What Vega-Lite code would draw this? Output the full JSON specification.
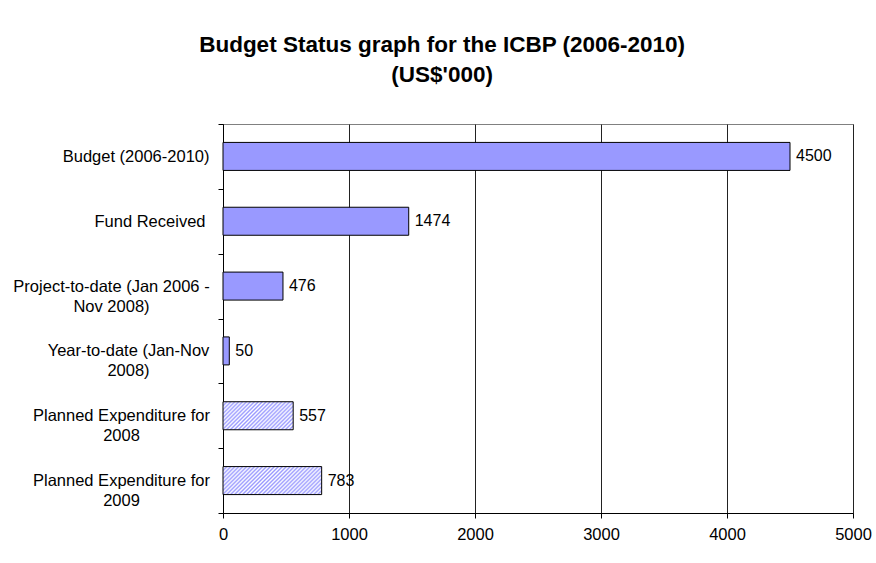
{
  "$schema": "https://vega.github.io/schema/vega-lite/v6.json",
  "width": 630,
  "height": 389,
  "autosize": {"type": "none"},
  "padding": {"left": 223, "top": 124, "right": 23, "bottom": 50},
  "background": "white",
  "config": {"font": "Liberation Sans", "view": {"stroke": "#808080", "strokeWidth": 1}},
  "title": {
    "text": ["Budget Status graph for the ICBP (2006-2010)", "(US$'000)"],
    "font": "Liberation Sans",
    "fontSize": 22.5,
    "fontWeight": "bold",
    "color": "black",
    "anchor": "middle",
    "frame": "bounds",
    "offset": 30,
    "lineHeight": 30
  },
  "data": {
    "values": [
      {"cat": "Budget (2006-2010)", "value": 4500, "kind": "actual"},
      {"cat": "Fund Received", "value": 1474, "kind": "actual"},
      {"cat": "Project-to-date (Jan 2006 -\nNov 2008)", "value": 476, "kind": "actual"},
      {"cat": "Year-to-date (Jan-Nov\n2008)", "value": 50, "kind": "actual"},
      {"cat": "Planned Expenditure for\n2008", "value": 557, "kind": "planned"},
      {"cat": "Planned Expenditure for\n2009", "value": 783, "kind": "planned"}
    ]
  },
  "encoding": {
    "y": {
      "field": "cat",
      "type": "nominal",
      "sort": null,
      "scale": {
        "domain": ["Budget (2006-2010)", "Fund Received", "Project-to-date (Jan 2006 -\nNov 2008)", "Year-to-date (Jan-Nov\n2008)", "Planned Expenditure for\n2008", "Planned Expenditure for\n2009"],
        "paddingInner": 0, "paddingOuter": 0
      },
      "axis": {
        "title": null,
        "labelExpr": "split('' + datum.label, '\\n')",
        "tickBand": "extent",
        "tickSize": 5,
        "tickColor": "black",
        "domainColor": "black",
        "labelFontSize": 16.5,
        "labelColor": "black",
        "labelLineHeight": 20,
        "labelLimit": 400,
        "labelPadding": 9,
        "labelAlign": "right",
        "encoding": {
          "labels": {
            "align": {"value": {"expr": "datum.value == 'Budget (2006-2010)' || datum.value == 'Fund Received' ? 'right' : 'center'"}},
            "dx": {"value": {"expr": "datum.value == 'Budget (2006-2010)' ? 0 : datum.value == 'Fund Received' ? -4 : indexof('' + datum.value, 'Project') == 0 ? -98 : indexof('' + datum.value, 'Year') == 0 ? -81 : -88"}}
          }
        },
        "grid": false
      }
    },
    "x": {
      "field": "value",
      "type": "quantitative",
      "scale": {"domain": [0, 5000], "nice": false},
      "axis": {
        "title": null,
        "values": [0, 1000, 2000, 3000, 4000, 5000],
        "format": "d",
        "grid": true,
        "gridColor": "#222222",
        "domainColor": "black",
        "tickColor": "black",
        "tickSize": 5,
        "labelFontSize": 16.5,
        "labelColor": "black",
        "labelPadding": 8,
        "labelFlush": false,
        "labelAngle": 0
      }
    }
  },
  "layer": [
    {
      "transform": [{"filter": {"field": "kind", "equal": "actual"}}],
      "mark": {"type": "bar", "height": {"band": 0.432}, "stroke": "black", "strokeWidth": 1, "fill": "#9999ff"}
    },
    {
      "transform": [{"filter": {"field": "cat", "equal": "Planned Expenditure for\n2008"}}],
      "mark": {"type": "bar", "height": {"band": 0.432}, "stroke": "black", "strokeWidth": 1,
        "fill": {"gradient": "linear", "x1": 0, "y1": 0, "x2": 1.207, "y2": 0.481, "stops": [
          {"offset": 0, "color": "#99f"}, {"offset": 0.02, "color": "#fff"},
          {"offset": 0.04, "color": "#99f"}, {"offset": 0.06, "color": "#fff"},
          {"offset": 0.08, "color": "#99f"}, {"offset": 0.10, "color": "#fff"},
          {"offset": 0.12, "color": "#99f"}, {"offset": 0.14, "color": "#fff"},
          {"offset": 0.16, "color": "#99f"}, {"offset": 0.18, "color": "#fff"},
          {"offset": 0.20, "color": "#99f"}, {"offset": 0.22, "color": "#fff"},
          {"offset": 0.24, "color": "#99f"}, {"offset": 0.26, "color": "#fff"},
          {"offset": 0.28, "color": "#99f"}, {"offset": 0.30, "color": "#fff"},
          {"offset": 0.32, "color": "#99f"}, {"offset": 0.34, "color": "#fff"},
          {"offset": 0.36, "color": "#99f"}, {"offset": 0.38, "color": "#fff"},
          {"offset": 0.40, "color": "#99f"}, {"offset": 0.42, "color": "#fff"},
          {"offset": 0.44, "color": "#99f"}, {"offset": 0.46, "color": "#fff"},
          {"offset": 0.48, "color": "#99f"}, {"offset": 0.50, "color": "#fff"},
          {"offset": 0.52, "color": "#99f"}, {"offset": 0.54, "color": "#fff"},
          {"offset": 0.56, "color": "#99f"}, {"offset": 0.58, "color": "#fff"},
          {"offset": 0.60, "color": "#99f"}, {"offset": 0.62, "color": "#fff"},
          {"offset": 0.64, "color": "#99f"}, {"offset": 0.66, "color": "#fff"},
          {"offset": 0.68, "color": "#99f"}, {"offset": 0.70, "color": "#fff"},
          {"offset": 0.72, "color": "#99f"}, {"offset": 0.74, "color": "#fff"},
          {"offset": 0.76, "color": "#99f"}, {"offset": 0.78, "color": "#fff"},
          {"offset": 0.80, "color": "#99f"}, {"offset": 0.82, "color": "#fff"},
          {"offset": 0.84, "color": "#99f"}, {"offset": 0.86, "color": "#fff"},
          {"offset": 0.88, "color": "#99f"}, {"offset": 0.90, "color": "#fff"},
          {"offset": 0.92, "color": "#99f"}, {"offset": 0.94, "color": "#fff"},
          {"offset": 0.96, "color": "#99f"}, {"offset": 0.98, "color": "#fff"},
          {"offset": 1, "color": "#99f"}
        ]}
      }
    },
    {
      "transform": [{"filter": {"field": "cat", "equal": "Planned Expenditure for\n2009"}}],
      "mark": {"type": "bar", "height": {"band": 0.432}, "stroke": "black", "strokeWidth": 1,
        "fill": {"gradient": "linear", "x1": 0, "y1": 0, "x2": 1.188, "y2": 0.337, "stops": [
          {"offset": 0, "color": "#99f"}, {"offset": 0.015625, "color": "#fff"},
          {"offset": 0.03125, "color": "#99f"}, {"offset": 0.046875, "color": "#fff"},
          {"offset": 0.0625, "color": "#99f"}, {"offset": 0.078125, "color": "#fff"},
          {"offset": 0.09375, "color": "#99f"}, {"offset": 0.109375, "color": "#fff"},
          {"offset": 0.125, "color": "#99f"}, {"offset": 0.140625, "color": "#fff"},
          {"offset": 0.15625, "color": "#99f"}, {"offset": 0.171875, "color": "#fff"},
          {"offset": 0.1875, "color": "#99f"}, {"offset": 0.203125, "color": "#fff"},
          {"offset": 0.21875, "color": "#99f"}, {"offset": 0.234375, "color": "#fff"},
          {"offset": 0.25, "color": "#99f"}, {"offset": 0.265625, "color": "#fff"},
          {"offset": 0.28125, "color": "#99f"}, {"offset": 0.296875, "color": "#fff"},
          {"offset": 0.3125, "color": "#99f"}, {"offset": 0.328125, "color": "#fff"},
          {"offset": 0.34375, "color": "#99f"}, {"offset": 0.359375, "color": "#fff"},
          {"offset": 0.375, "color": "#99f"}, {"offset": 0.390625, "color": "#fff"},
          {"offset": 0.40625, "color": "#99f"}, {"offset": 0.421875, "color": "#fff"},
          {"offset": 0.4375, "color": "#99f"}, {"offset": 0.453125, "color": "#fff"},
          {"offset": 0.46875, "color": "#99f"}, {"offset": 0.484375, "color": "#fff"},
          {"offset": 0.5, "color": "#99f"}, {"offset": 0.515625, "color": "#fff"},
          {"offset": 0.53125, "color": "#99f"}, {"offset": 0.546875, "color": "#fff"},
          {"offset": 0.5625, "color": "#99f"}, {"offset": 0.578125, "color": "#fff"},
          {"offset": 0.59375, "color": "#99f"}, {"offset": 0.609375, "color": "#fff"},
          {"offset": 0.625, "color": "#99f"}, {"offset": 0.640625, "color": "#fff"},
          {"offset": 0.65625, "color": "#99f"}, {"offset": 0.671875, "color": "#fff"},
          {"offset": 0.6875, "color": "#99f"}, {"offset": 0.703125, "color": "#fff"},
          {"offset": 0.71875, "color": "#99f"}, {"offset": 0.734375, "color": "#fff"},
          {"offset": 0.75, "color": "#99f"}, {"offset": 0.765625, "color": "#fff"},
          {"offset": 0.78125, "color": "#99f"}, {"offset": 0.796875, "color": "#fff"},
          {"offset": 0.8125, "color": "#99f"}, {"offset": 0.828125, "color": "#fff"},
          {"offset": 0.84375, "color": "#99f"}, {"offset": 0.859375, "color": "#fff"},
          {"offset": 0.875, "color": "#99f"}, {"offset": 0.890625, "color": "#fff"},
          {"offset": 0.90625, "color": "#99f"}, {"offset": 0.921875, "color": "#fff"},
          {"offset": 0.9375, "color": "#99f"}, {"offset": 0.953125, "color": "#fff"},
          {"offset": 0.96875, "color": "#99f"}, {"offset": 0.984375, "color": "#fff"},
          {"offset": 1, "color": "#99f"}
        ]}
      }
    },
    {
      "mark": {"type": "text", "align": "left", "baseline": "middle", "dx": 6, "fontSize": 16, "color": "black"},
      "encoding": {"text": {"field": "value", "type": "quantitative"}}
    }
  ]
}
